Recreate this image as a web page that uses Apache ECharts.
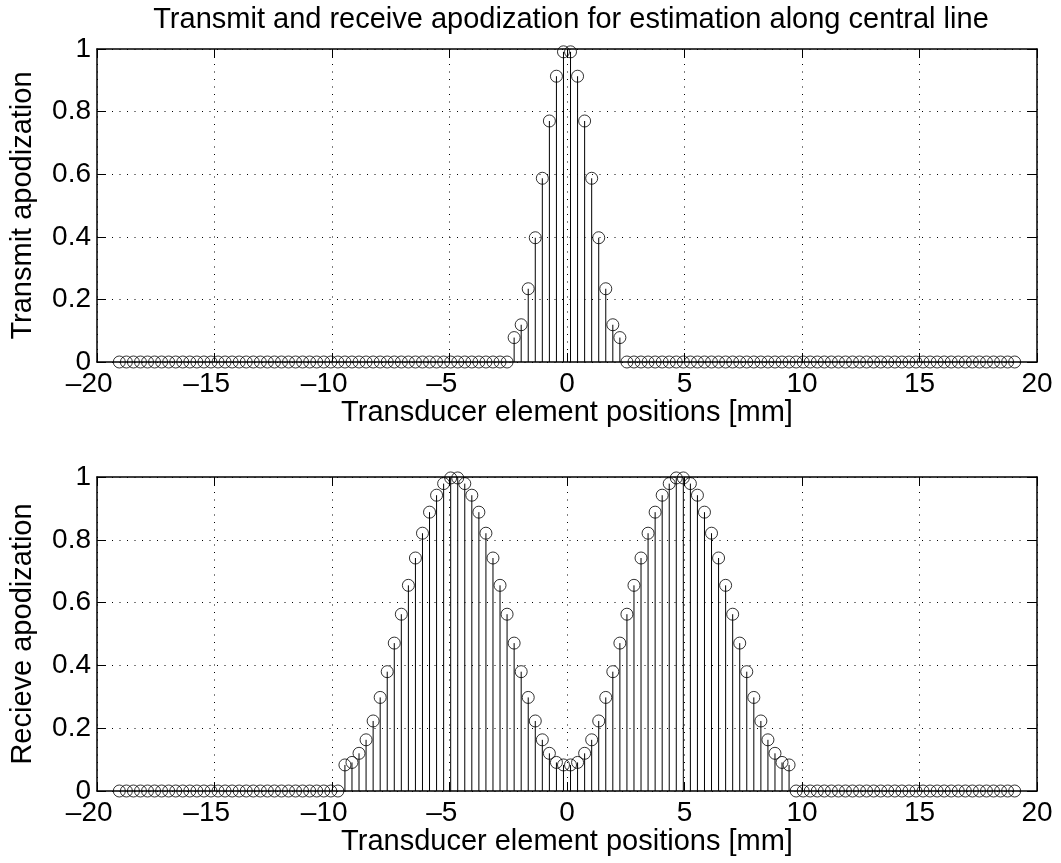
<!DOCTYPE html>
<html>
<head>
<meta charset="utf-8">
<title>Transmit and receive apodization</title>
<script src="https://cdn.jsdelivr.net/npm/echarts@6/dist/echarts.min.js"></script>
<style>
  html, body { margin: 0; padding: 0; background: #fff; }
  #chart { width: 1061px; height: 863px; }
</style>
</head>
<body>
<div id="chart"></div>
<script>
// Element centre positions of the 128-element array [mm]
const positions = [
  -19.05, -18.75, -18.45, -18.15, -17.85, -17.55, -17.25, -16.95, -16.65, -16.35,
  -16.05, -15.75, -15.45, -15.15, -14.85, -14.55, -14.25, -13.95, -13.65, -13.35,
  -13.05, -12.75, -12.45, -12.15, -11.85, -11.55, -11.25, -10.95, -10.65, -10.35,
  -10.05, -9.75, -9.45, -9.15, -8.85, -8.55, -8.25, -7.95, -7.65, -7.35,
  -7.05, -6.75, -6.45, -6.15, -5.85, -5.55, -5.25, -4.95, -4.65, -4.35,
  -4.05, -3.75, -3.45, -3.15, -2.85, -2.55, -2.25, -1.95, -1.65, -1.35,
  -1.05, -0.75, -0.45, -0.15, 0.15, 0.45, 0.75, 1.05, 1.35, 1.65,
  1.95, 2.25, 2.55, 2.85, 3.15, 3.45, 3.75, 4.05, 4.35, 4.65,
  4.95, 5.25, 5.55, 5.85, 6.15, 6.45, 6.75, 7.05, 7.35, 7.65,
  7.95, 8.25, 8.55, 8.85, 9.15, 9.45, 9.75, 10.05, 10.35, 10.65,
  10.95, 11.25, 11.55, 11.85, 12.15, 12.45, 12.75, 13.05, 13.35, 13.65,
  13.95, 14.25, 14.55, 14.85, 15.15, 15.45, 15.75, 16.05, 16.35, 16.65,
  16.95, 17.25, 17.55, 17.85, 18.15, 18.45, 18.75, 19.05
];

// Transmit apodization, one value per element
const transmitApo = [
  0, 0, 0, 0, 0, 0, 0, 0, 0, 0,
  0, 0, 0, 0, 0, 0, 0, 0, 0, 0,
  0, 0, 0, 0, 0, 0, 0, 0, 0, 0,
  0, 0, 0, 0, 0, 0, 0, 0, 0, 0,
  0, 0, 0, 0, 0, 0, 0, 0, 0, 0,
  0, 0, 0, 0, 0, 0, 0.078, 0.119, 0.234, 0.397,
  0.587, 0.770, 0.913, 0.991, 0.991, 0.913, 0.770, 0.587, 0.397, 0.234,
  0.119, 0.078, 0, 0, 0, 0, 0, 0, 0, 0,
  0, 0, 0, 0, 0, 0, 0, 0, 0, 0,
  0, 0, 0, 0, 0, 0, 0, 0, 0, 0,
  0, 0, 0, 0, 0, 0, 0, 0, 0, 0,
  0, 0, 0, 0, 0, 0, 0, 0, 0, 0,
  0, 0, 0, 0, 0, 0, 0, 0
];

// Receive apodization, one value per element
const receiveApo = [
  0, 0, 0, 0, 0, 0, 0, 0, 0, 0,
  0, 0, 0, 0, 0, 0, 0, 0, 0, 0,
  0, 0, 0, 0, 0, 0, 0, 0, 0, 0,
  0, 0, 0.083, 0.091, 0.120, 0.163, 0.223, 0.298, 0.380, 0.471,
  0.563, 0.655, 0.742, 0.821, 0.888, 0.942, 0.979, 0.997, 0.997, 0.979,
  0.942, 0.888, 0.821, 0.742, 0.655, 0.563, 0.471, 0.380, 0.298, 0.223,
  0.163, 0.120, 0.091, 0.083, 0.083, 0.091, 0.120, 0.163, 0.223, 0.298,
  0.380, 0.471, 0.563, 0.655, 0.742, 0.821, 0.888, 0.942, 0.979, 0.997,
  0.997, 0.979, 0.942, 0.888, 0.821, 0.742, 0.655, 0.563, 0.471, 0.380,
  0.298, 0.223, 0.163, 0.120, 0.091, 0.083, 0, 0, 0, 0,
  0, 0, 0, 0, 0, 0, 0, 0, 0, 0,
  0, 0, 0, 0, 0, 0, 0, 0, 0, 0,
  0, 0, 0, 0, 0, 0, 0, 0
];

// Axis tick labels
const xTickValues = [-20, -15, -10, -5, 0, 5, 10, 15, 20];
const xTickLabels = ['\u201320', '\u201315', '\u201310', '\u20135', '0', '5', '10', '15', '20'];
const yTickValues = [0, 0.2, 0.4, 0.6, 0.8, 1];
const yTickLabels = ['0', '0.2', '0.4', '0.6', '0.8', '1'];

const titleText = 'Transmit and receive apodization for estimation along central line';
const xName = 'Transducer element positions [mm]';
const yNames = ['Transmit apodization', 'Recieve apodization'];

const FONT = 'Liberation Sans, Arial, Helvetica, sans-serif';
const FS = 28;
const NAME_FS = 29;

function labelFor(values, labels, v) {
  for (let i = 0; i < values.length; i++) {
    if (Math.abs(values[i] - v) < 1e-9) return labels[i];
  }
  return '';
}

// Negative labels keep their digits centred on the tick: an invisible
// dash on the right balances the visible minus sign on the left.
function xLabel(v) {
  const s = labelFor(xTickValues, xTickLabels, v);
  return s.charAt(0) === '\u2013' ? s + '{pad|\u2013}' : s;
}

const gridDefs = [
  { left: 96, width: 941, top: 49, height: 313 },
  { left: 96, width: 941, top: 477, height: 314 }
];

const dotted = { color: '#000', width: 1, type: [1, 6.5] };
const axisLine = { show: true, onZero: false, lineStyle: { color: '#000', width: 1.5 } };
const tick = { show: true, inside: true, length: 9, lineStyle: { color: '#000', width: 1 } };

const xAxes = [];
const yAxes = [];
gridDefs.forEach((g, gi) => {
  // bottom x axis with labels and grid
  xAxes.push({
    type: 'value', gridIndex: gi, position: 'bottom',
    min: -20, max: 20, interval: 5,
    axisLine: axisLine, axisTick: tick,
    axisLabel: {
      show: true, margin: 8, color: '#000', fontFamily: FONT, fontSize: FS,
      formatter: xLabel,
      rich: { pad: { color: 'rgba(0,0,0,0)', fontFamily: FONT, fontSize: FS } }
    },
    splitLine: { show: true, lineStyle: dotted },
    name: xName, nameLocation: 'middle', nameGap: 35,
    nameTextStyle: { color: '#000', fontFamily: FONT, fontSize: NAME_FS }
  });
  // top x axis: box edge with ticks
  xAxes.push({
    type: 'value', gridIndex: gi, position: 'top',
    min: -20, max: 20, interval: 5,
    axisLine: axisLine, axisTick: tick,
    axisLabel: { show: false }, splitLine: { show: false }
  });
  // left y axis with labels and grid
  yAxes.push({
    type: 'value', gridIndex: gi, position: 'left',
    min: 0, max: 1, interval: 0.2,
    axisLine: axisLine, axisTick: tick,
    axisLabel: {
      show: true, margin: 6, color: '#000', fontFamily: FONT, fontSize: FS,
      formatter: v => labelFor(yTickValues, yTickLabels, v)
    },
    splitLine: { show: true, lineStyle: dotted },
    name: yNames[gi], nameLocation: 'middle', nameGap: 60,
    nameTextStyle: { color: '#000', fontFamily: FONT, fontSize: NAME_FS }
  });
  // right y axis: box edge with ticks
  yAxes.push({
    type: 'value', gridIndex: gi, position: 'right',
    min: 0, max: 1, interval: 0.2,
    axisLine: axisLine, axisTick: tick,
    axisLabel: { show: false }, splitLine: { show: false }
  });
});

function pairs(xs, ys) {
  return xs.map((x, i) => [x, ys[i]]);
}

// Vertical stem from the zero baseline up to each value
function stemItem(params, api) {
  const x = api.value(0);
  const y = api.value(1);
  const p0 = api.coord([x, 0]);
  const p1 = api.coord([x, y]);
  return {
    type: 'line',
    shape: { x1: p0[0], y1: p0[1], x2: p1[0], y2: p1[1] },
    style: { stroke: '#000', lineWidth: 1 }
  };
}

function stemSeries(data, axisBase) {
  return [
    {
      type: 'custom', xAxisIndex: axisBase, yAxisIndex: axisBase,
      renderItem: stemItem, data: data, silent: true, clip: false, z: 2
    },
    {
      type: 'scatter', xAxisIndex: axisBase, yAxisIndex: axisBase,
      data: data, symbol: 'circle', symbolSize: 12, silent: true, z: 3,
      itemStyle: { color: 'rgba(0,0,0,0)', borderColor: '#000', borderWidth: 1 }
    }
  ];
}

const chart = echarts.init(document.getElementById('chart'), null, { renderer: 'canvas' });
chart.setOption({
  backgroundColor: '#fff',
  animation: false,
  title: {
    text: titleText, left: 566, top: 0, textAlign: 'center',
    textStyle: { color: '#000', fontFamily: FONT, fontSize: 29, fontWeight: 'normal' }
  },
  grid: gridDefs,
  xAxis: xAxes,
  yAxis: yAxes,
  series: [
    ...stemSeries(pairs(positions, transmitApo), 0),
    ...stemSeries(pairs(positions, receiveApo), 2)
  ]
});
</script>
</body>
</html>
